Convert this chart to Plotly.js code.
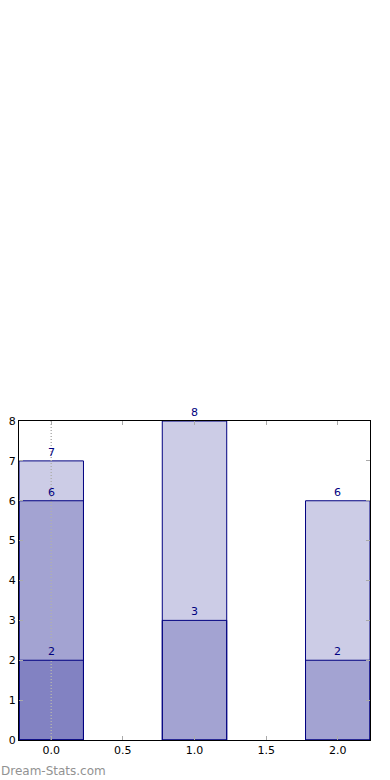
<!DOCTYPE html>
<html><head><meta charset="utf-8">
<script src="https://cdn.plot.ly/plotly-3.0.1.min.js"></script>
<style>html,body{margin:0;padding:0;background:#fff;}#chart{width:390px;height:780px;}</style>
</head><body><div id="chart"></div>
<script>
const xPositions = [0, 1, 2];
const seriesA = [7, 8, 6];
const seriesB = [6, 3, 2];
const seriesC = [2, null, null];
const xTickVals = [0, 0.5, 1, 1.5, 2];
const yTickVals = [0, 1, 2, 3, 4, 5, 6, 7, 8];

const allSeries = [seriesA, seriesB, seriesC];
const traces = allSeries.map(s => ({
  type: 'bar', x: xPositions, y: s, width: 0.45,
  marker: {color: 'rgba(0,0,128,0.2)', line: {color: '#000080', width: 1}},
  hoverinfo: 'none'
}));
// dotted line at x=0
traces.push({type: 'scatter', mode: 'lines', x: [0, 0], y: [0, 8],
  line: {color: '#b0b0b0', width: 1.5, dash: '1px,2px'}, hoverinfo: 'none'});

const annotations = [];
allSeries.forEach(s => s.forEach((v, i) => {
  if (v === null) return;
  annotations.push({x: xPositions[i], y: v, xref: 'x', yref: 'y', text: String(v),
    showarrow: false, yanchor: 'bottom', yshift: 0,
    font: {family: 'DejaVu Sans', size: 11, color: '#000080'}});
}));
annotations.push({x: 0, y: 0, xref: 'paper', yref: 'paper', xanchor: 'left', yanchor: 'bottom',
  xshift: -20, yshift: -40,
  text: 'Dream-Stats.com', showarrow: false,
  font: {family: 'DejaVu Sans', size: 12, color: '#929292'}});

const layout = {
  width: 390, height: 780, showlegend: false, barmode: 'overlay',
  paper_bgcolor: '#fff', plot_bgcolor: '#fff',
  margin: {l: 19, r: 20, t: 421, b: 40},
  font: {family: 'DejaVu Sans', size: 11, color: '#000'},
  xaxis: {range: [-0.225, 2.225], tickvals: xTickVals, tickformat: '.1f', showgrid: false, zeroline: false,
    ticks: 'inside', ticklen: 4, tickcolor: '#aaaaaa', showline: true, linecolor: '#000', mirror: 'ticks', linewidth: 1},
  yaxis: {range: [0, 8], tickvals: yTickVals, showgrid: false, zeroline: false,
    ticks: 'inside', ticklen: 4, tickcolor: '#aaaaaa', showline: true, linecolor: '#000', mirror: 'ticks', linewidth: 1},
  annotations: annotations
};
Plotly.newPlot('chart', traces, layout, {staticPlot: true});
</script></body></html>
